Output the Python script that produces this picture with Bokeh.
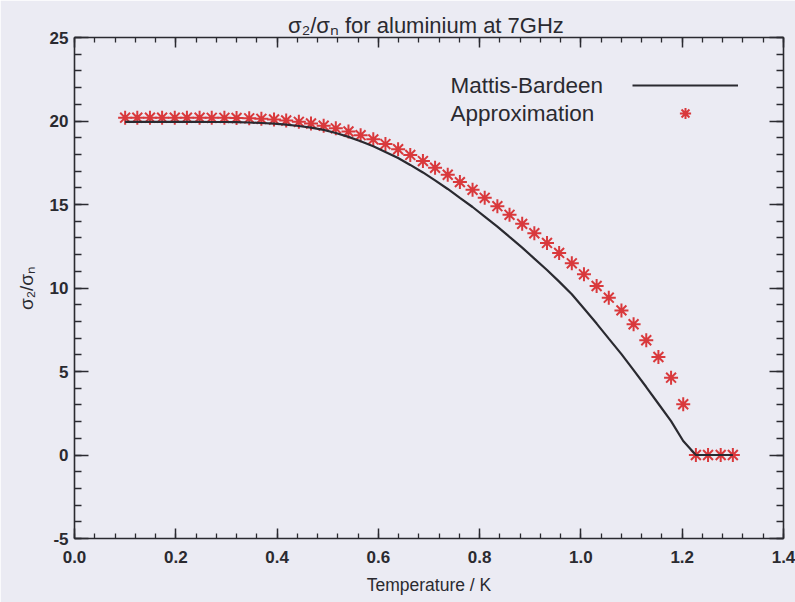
from bokeh.plotting import figure
from bokeh.models import (LinearAxis, FixedTicker, CustomJSTickFormatter, PrintfTickFormatter,
                          Legend, LegendItem, Label, ColumnDataSource, Range1d)
from bokeh.embed import file_html
from bokeh.resources import INLINE

# ---- data ----
temperature = [0.100, 0.124, 0.149, 0.173, 0.198, 0.222, 0.247, 0.271, 0.296, 0.320,
               0.345, 0.369, 0.394, 0.418, 0.443, 0.467, 0.492, 0.516, 0.541, 0.565,
               0.590, 0.614, 0.639, 0.663, 0.688, 0.712, 0.737, 0.761, 0.786, 0.810,
               0.835, 0.859, 0.884, 0.908, 0.933, 0.957, 0.982, 1.006, 1.031, 1.055,
               1.080, 1.104, 1.129, 1.153, 1.178, 1.202, 1.227, 1.251, 1.276, 1.300]

mattis_bardeen = [19.95, 19.95, 19.95, 19.95, 19.95, 19.95, 19.95, 19.94, 19.94, 19.93,
                  19.91, 19.88, 19.84, 19.78, 19.70, 19.60, 19.47, 19.28, 19.05, 18.79,
                  18.49, 18.15, 17.78, 17.37, 16.92, 16.44, 15.93, 15.40, 14.85, 14.28,
                  13.68, 13.06, 12.42, 11.76, 11.08, 10.38, 9.63, 8.77, 7.87, 6.97,
                  6.04, 5.08, 4.07, 3.07, 2.03, 0.84, 0.0, 0.0, 0.0, 0.0]

approximation = [20.20, 20.20, 20.20, 20.20, 20.20, 20.20, 20.20, 20.19, 20.19, 20.18,
                 20.16, 20.13, 20.09, 20.03, 19.95, 19.85, 19.72, 19.56, 19.37, 19.15,
                 18.90, 18.62, 18.31, 17.97, 17.60, 17.20, 16.78, 16.34, 15.88, 15.40,
                 14.90, 14.38, 13.84, 13.28, 12.70, 12.10, 11.48, 10.82, 10.12, 9.42,
                 8.66, 7.83, 6.87, 5.87, 4.63, 3.04, 0.0, 0.0, 0.0, 0.0]

x_major_ticks = [0.0, 0.2, 0.4, 0.6, 0.8, 1.0, 1.2, 1.4]
y_major_ticks = [-5, 0, 5, 10, 15, 20, 25]

title_text = "σ₂/σₙ for aluminium  at 7GHz"
x_label = "Temperature / K"
y_label = "σ₂/σₙ"
series_names = ["Mattis-Bardeen", "Approximation"]

# ---- styling ----
PAPER = "#ebebf3"
INK = "#2a2a30"
RED = "#d9393c"
FONT = "Liberation Sans"

src = ColumnDataSource(dict(t=temperature, mb=mattis_bardeen, ap=approximation))

p = figure(width=795, height=602, output_backend="svg", toolbar_location=None,
           x_range=Range1d(0, 1.4), y_range=Range1d(-5, 25),
           min_border_left=74, min_border_right=12, min_border_top=37, min_border_bottom=64)
p.background_fill_color = PAPER
p.border_fill_color = PAPER
p.outline_line_color = None
p.xgrid.visible = False
p.ygrid.visible = False

p.title.text = title_text
p.title.align = "center"
p.title.text_font = FONT
p.title.text_font_size = "22px"
p.title.text_font_style = "normal"
p.title.text_color = INK
p.title.standoff = 0
p.title.offset = 0

x_minor = [round(i * 0.04, 2) for i in range(36)]
y_minor = list(range(-5, 26))
xticker = FixedTicker(ticks=x_major_ticks, minor_ticks=x_minor)
yticker = FixedTicker(ticks=y_major_ticks, minor_ticks=y_minor)


def style_axis(ax, major_len, minor_len):
    ax.axis_line_color = INK
    ax.axis_line_width = 1.6
    ax.major_tick_line_color = INK
    ax.major_tick_line_width = 1.5
    ax.minor_tick_line_color = INK
    ax.minor_tick_line_width = 1.3
    ax.major_tick_in = major_len
    ax.major_tick_out = 0
    ax.minor_tick_in = minor_len
    ax.minor_tick_out = 0
    ax.major_label_text_font = FONT
    ax.major_label_text_color = INK
    ax.major_label_text_font_style = "bold"
    ax.axis_label_text_font = FONT
    ax.axis_label_text_color = INK
    ax.axis_label_text_font_style = "normal"


xa = p.xaxis[0]
xa.ticker = xticker
xa.formatter = PrintfTickFormatter(format="%.1f")
style_axis(xa, 10, 5)
xa.major_label_text_font_size = "17px"
xa.major_label_standoff = 12
xa.axis_label = x_label
xa.axis_label_text_font_size = "17.5px"
xa.axis_label_standoff = 9

ya = p.yaxis[0]
ya.ticker = yticker
ya.formatter = PrintfTickFormatter(format="%d")
style_axis(ya, 14, 7)
ya.major_label_text_font_size = "17px"
ya.major_label_standoff = 6
ya.major_label_orientation = "horizontal"
ya.axis_label = y_label
ya.axis_label_text_font_size = "19px"
ya.axis_label_standoff = 10

blank = CustomJSTickFormatter(code="return ''")
top = LinearAxis(ticker=xticker, formatter=blank)
style_axis(top, 10, 5)
top.major_label_standoff = 0
p.add_layout(top, "above")
right = LinearAxis(ticker=yticker, formatter=blank)
style_axis(right, 14, 7)
right.major_label_standoff = 0
p.add_layout(right, "right")

# ---- data marks ----
sc = p.scatter("t", "ap", source=src, marker="asterisk", size=14,
               line_color=RED, line_width=2.0)
ln = p.line("t", "mb", source=src, line_color=INK, line_width=2.2)

# ---- legend: text on the left, sample on the right ----
leg = Legend(items=[LegendItem(label=" ", renderers=[ln]),
                    LegendItem(label=" ", renderers=[sc])],
             location=(558, 411), glyph_width=106, glyph_height=28,
             label_width=0, label_height=28, label_standoff=0, spacing=0,
             padding=0, margin=0, border_line_alpha=0, background_fill_alpha=0,
             label_text_font_size="1px")
p.add_layout(leg)

for name, yv in zip(series_names, [22.1, 20.42]):
    p.add_layout(Label(x=0.7425, y=yv, text=name, text_font=FONT, text_font_size="22.5px",
                       text_color=INK, text_baseline="middle", text_align="left"))

open("out.html", "w").write(file_html(p, INLINE))
